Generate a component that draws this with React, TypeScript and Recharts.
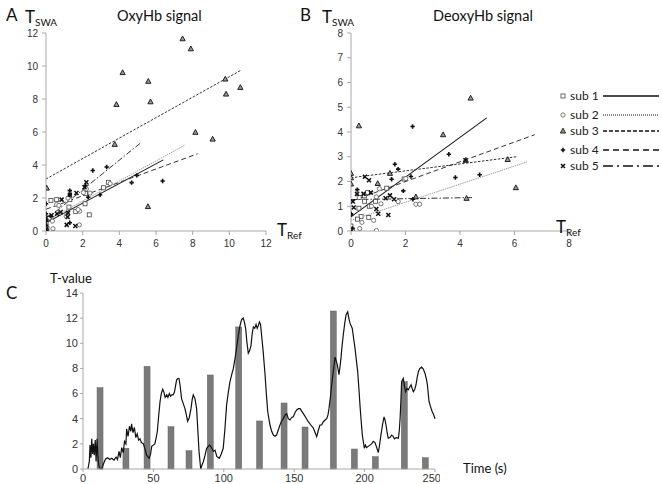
import React from "react";
import { ComposedChart, Scatter, Line, Bar, XAxis, YAxis } from "recharts";

type Pt = [number, number];

// panel A / B axis ticks
const oxyTicks = [0, 2, 4, 6, 8, 10, 12];
const deoxyTicksX = [0, 2, 4, 6, 8];
const deoxyTicksY = [0, 1, 2, 3, 4, 5, 6, 7, 8];
const timeTicks = [0, 50, 100, 150, 200, 250];
const tValueTicks = [0, 2, 4, 6, 8, 10, 12, 14];

const subjects = ["sub 1", "sub 2", "sub 3", "sub 4", "sub 5"];

// OxyHb: T_Ref vs T_SWA, one list per subject
const oxySub1: Pt[] = [[0.27, 1.85], [0.58, 1.9], [1.3, 1.9], [2.13, 1.65], [2.36, 0.98], [1.62, 1.18], [3.13, 2.62], [3.4, 2.95], [2.15, 2.28], [0, 0.5], [0, 0.3], [0.05, 0.15], [0.15, 0.75], [1.25, 1.45]];
const oxySub2: Pt[] = [[0.58, 1.6], [0.7, 1.55], [1.1, 0.9], [1.84, 1.2], [1.82, 0.37], [0.38, 0.14], [2.04, 2.32], [2.2, 2.55], [3.5, 2.87], [1.2, 2.0], [0.2, 0.8], [1.75, 1.3], [2.4, 2.3], [0.35, 0.6]];
const oxySub3: Pt[] = [[7.45, 11.65], [7.9, 11.04], [4.18, 9.6], [5.58, 9.07], [9.78, 9.21], [10.6, 8.7], [9.82, 8.3], [3.84, 7.67], [5.7, 7.83], [8.15, 5.98], [9.09, 5.57], [3.75, 5.25], [5.56, 1.48], [0.04, 2.6], [0, 0.05], [0, 0.2]];
const oxySub4: Pt[] = [[2.55, 3.67], [3.31, 3.88], [4.95, 3.37], [4.67, 2.93], [6.36, 3.03], [2.95, 2.2], [1.3, 2.45], [1.3, 2.2], [0, 1.65], [0, 1.05], [2.15, 2.75], [1.3, 0.5], [2.3, 2.05], [0.25, 0.9], [0, 0.6], [0, 0.35]];
const oxySub5: Pt[] = [[2.2, 2.95], [2.1, 2.65], [1.66, 2.3], [1.3, 2.2], [0.85, 1.9], [1.13, 0.37], [1.6, 0.3], [1.18, 0.85], [0.3, 0.95], [0.8, 1.15], [1.2, 1.1], [0, 0.8], [0.6, 1.05], [0, 0.1]];

// regression lines (start, end)
const oxyFits: Pt[][] = [
  [[0, 0.5], [6.4, 4.31]],
  [[0, 0.6], [7.55, 5.19]],
  [[0, 3.15], [10.6, 9.72]],
  [[0, 1.32], [8.27, 4.68]],
  [[0, 0.7], [5.22, 5.39]],
];

// DeoxyHb
const deoxySub1: Pt[] = [[0.49, 1.42], [0.61, 1.55], [1.31, 1.73], [0.29, 0.92], [0.37, 0.59], [0.24, 0.48], [0, 0.2], [0.5, 1.2], [0.67, 1.0], [0.9, 1.2], [0.65, 0.55], [1.95, 2.1], [0.3, 1.35], [0.05, 0.05]];
const deoxySub2: Pt[] = [[1.04, 1.71], [2.01, 2.12], [1.73, 1.19], [2.38, 1.08], [2.52, 1.08], [0.93, 1.38], [0.83, 0.43], [0.32, 0.1], [0.93, 0.02], [1.1, 1.1], [0.75, 1.0], [0.4, 0.35]];
const deoxySub3: Pt[] = [[0.29, 4.25], [3.38, 3.89], [4.39, 5.37], [1.43, 2.33], [0, 2.33], [0, 2.15], [0, 1.9], [0.98, 1.92], [2.38, 1.38], [4.24, 1.32], [4.21, 2.86], [5.75, 2.89], [6.05, 1.75]];
const deoxySub4: Pt[] = [[2.26, 4.22], [3.59, 3.1], [1.61, 2.7], [1.73, 2.5], [1.49, 2.09], [2.2, 2.2], [3.83, 2.16], [4.72, 2.27], [0.23, 1.67], [1.92, 1.62], [2.27, 1.28], [0, 0.7], [0, 0.65], [0.05, 0.1]];
const deoxySub5: Pt[] = [[0.51, 2.19], [0.66, 2.05], [0.22, 1.5], [0.46, 1.5], [0.73, 1.55], [1.43, 1.44], [1.27, 1.32], [1.58, 1.28], [0.07, 1.19], [0.93, 0.89], [1.37, 0.65], [1.0, 0.7], [0.1, 0.95], [4.2, 2.86], [0, 0]];

const deoxyFits: Pt[][] = [
  [[0, 0.57], [4.98, 4.57]],
  [[0, 0.43], [6.48, 2.8]],
  [[0, 2.15], [6.07, 3.0]],
  [[0, 1.2], [6.74, 3.89]],
  [[0, 1.27], [4.48, 1.35]],
];

// panel C: block onsets (s) and T-values
const blockTimes = [12.1, 30.5, 45.5, 62.5, 75.3, 90.4, 110.6, 125.4, 142.8, 157.7, 177.8, 192.7, 207.6, 228.2, 243.1];
const blockTValues = [6.47, 1.65, 8.17, 3.37, 1.46, 7.48, 11.3, 3.82, 5.25, 3.34, 12.57, 1.59, 0.98, 6.95, 0.9];

// sliding-window T-value trace [time, T]
const swaTrace: Pt[] = [
  [3.5, 0], [4.5, 0.6], [5, 1.9], [5.6, 0.9], [6.2, 2.4], [6.8, 1.2], [7.4, 2.0], [8, 1.1], [8.7, 2.3], [9.3, 0.6], [10, 2.4], [10.6, 1.0], [11.2, 0.3], [12, 0.05], [13.3, 0],
  [14.5, 0.4], [16, 0.8], [17.5, 0.9], [19, 0.75], [20.5, 0.85], [22, 0.7], [23.5, 0.95], [24.5, 0.75], [25.6, 1.4], [26.5, 0.9], [27.5, 1.7], [28.6, 1.3], [29.5, 2.2], [30.5, 2.0],
  [31, 3.2], [32, 2.6], [33, 3.4], [34, 3.0], [34.5, 3.6], [35.5, 2.9], [36.5, 3.3], [37.5, 2.5], [38.5, 2.8], [39.5, 2.3], [40.5, 2.4], [41.5, 2.1], [42.9, 2.0], [44, 1.6], [45.2, 1.1],
  [47, 0.85], [48, 1.2], [48.8, 1.8], [50, 1.9], [51, 2.0], [52, 2.5], [52.8, 3.0], [53.8, 4.3], [54.7, 5.35], [55.6, 6.0], [56.6, 6.35], [57.5, 6.1], [58.3, 5.7], [59.5, 5.9],
  [60.3, 5.7], [61.3, 6.0], [62.2, 5.8], [63, 5.9], [64, 5.9], [64.9, 6.1], [65.7, 6.6], [66.5, 7.1], [67.3, 7.2], [68.2, 7.2], [69, 6.6], [70, 5.6], [71.2, 5.2], [72.4, 4.8],
  [73.4, 4.3], [74.3, 3.8], [75.5, 4.1], [76.7, 4.8], [77.5, 5.5], [78.3, 5.9], [79.5, 5.6], [80.7, 4.8], [81.5, 3.2], [82.4, 1.4], [83.6, 0], [84.5, 0.3], [85.5, 0.6],
  [86.7, 1.1], [87.8, 1.65], [89, 1.8], [90, 1.9], [91.3, 1.7], [92.6, 1.4], [93.8, 1.5], [95, 1.0], [96.8, 0.85], [98.2, 1.2], [99.6, 1.65], [100.8, 3.2], [102, 5.1],
  [103.2, 6.1], [104.4, 6.95], [105.6, 7.5], [106.8, 8.0], [108, 8.8], [109, 9.6], [110.3, 10.6], [111.5, 11.4], [112.7, 11.9], [113.8, 12.0], [114.6, 11.7], [115.5, 11.2],
  [116.4, 10.1], [117.4, 9.2], [118.3, 9.4], [119.3, 9.8], [120.2, 10.8], [121, 11.3], [122, 11.2], [122.9, 11.5], [123.7, 11.2], [124.5, 11.4], [125.3, 11.7], [126.1, 11.5],
  [126.8, 10.7], [128, 9.3], [129.3, 7.5], [130.2, 6.0], [131.2, 4.55], [132, 4.0], [132.8, 3.5], [134, 3.0], [135.2, 2.7], [136.4, 2.6], [137.5, 2.7], [138.7, 3.1],
  [139.9, 3.5], [141, 3.8], [142.3, 4.0], [143.5, 4.3], [144.7, 4.4], [145.8, 4.0], [147, 3.9], [148.2, 4.1], [149.4, 4.15], [150.6, 4.5], [151.8, 4.7], [153, 4.8],
  [154.2, 4.8], [155.3, 4.6], [156.5, 4.4], [158.2, 4.1], [160, 3.76], [161.8, 3.5], [163.6, 3.25], [164.8, 2.9], [166, 2.57], [167.2, 3.1], [168.3, 3.5], [169.5, 3.5],
  [170.7, 3.76], [172, 3.9], [173.1, 4.0], [174, 4.3], [174.7, 4.8], [175.7, 5.7], [176.6, 6.7], [177.8, 7.8], [179, 8.9], [179.8, 8.6], [180.6, 8.3], [181.8, 7.5],
  [182.5, 8.1], [183.2, 8.8], [184, 9.8], [184.9, 10.7], [185.9, 11.6], [186.8, 12.25], [188, 12.5], [188.8, 12.0], [189.6, 11.6], [190.4, 11.4], [191.2, 11.2],
  [192.2, 10.4], [193.2, 9.6], [194.2, 8.6], [195.1, 7.75], [196, 6.3], [196.7, 5.1], [197.5, 3.9], [198.4, 2.7], [199.8, 1.65], [200.6, 1.9], [201.4, 1.7], [202.6, 1.8],
  [203.8, 1.9], [205, 2.0], [206.2, 2.2], [207.4, 2.1], [208.6, 1.7], [209.7, 1.3], [210.6, 1.9], [211.6, 2.7], [212.7, 3.5], [213.8, 4.15], [214.5, 3.9], [215.2, 3.5],
  [216, 2.9], [216.8, 2.45], [218, 2.5], [219.2, 2.7], [220.2, 2.6], [221.2, 2.4], [222.6, 2.5], [224, 2.45], [224.6, 3.0], [225.2, 4.0], [225.8, 5.5], [226.3, 6.95],
  [227.5, 7.2], [228.3, 6.6], [229.2, 6.15], [230.1, 6.4], [231.1, 6.3], [232, 6.5], [233, 6.7], [233.8, 6.4], [234.6, 6.15], [235.5, 6.3], [236.5, 6.7], [237.4, 7.3],
  [238.2, 7.75], [239.3, 8.0], [240.5, 8.1], [241.7, 7.95], [242.9, 7.6], [243.8, 7.2], [244.6, 6.7], [245.2, 6.0], [245.8, 5.35], [246.7, 5.0], [247.6, 4.7],
  [248.2, 4.5], [248.8, 4.4], [249.4, 4.2], [250, 4.0],
];

const toXY = (pts: Pt[]) => pts.map(([x, y]) => ({ x, y }));

const tickFont = { fontSize: 10, fill: "#333", fontFamily: "Liberation Sans, Arial, sans-serif" };
const axisGrey = { stroke: "#a8a8a8" };
const labelFont = "Lato, 'Open Sans', sans-serif";

// line styles for fits, matched by subject
const fitStyles = [
  { stroke: "#1a1a1a", dash: undefined as string | undefined, width: 1.1 },
  { stroke: "#a0a0a0", dash: "1.5 0.8", width: 1 },
  { stroke: "#333", dash: "2.5 1.5", width: 1 },
  { stroke: "#333", dash: "5 3", width: 1 },
  { stroke: "#333", dash: "6 2 1.5 2", width: 1 },
];
const legendDash = [undefined, "1 1", "4 2", "6 4", "10 4 2 4"];

function Marker({ cx, cy, kind }: { cx?: number; cy?: number; kind: number }) {
  if (cx == null || cy == null) return null;
  if (kind === 0)
    return <rect x={cx - 2} y={cy - 2} width={4} height={4} fill="#fff" stroke="#444" strokeWidth={0.8} />;
  if (kind === 1) return <circle cx={cx} cy={cy} r={2.1} fill="#fff" stroke="#555" strokeWidth={0.8} />;
  if (kind === 2)
    return (
      <polygon
        points={`${cx},${cy - 2.8} ${cx + 2.6},${cy + 2} ${cx - 2.6},${cy + 2}`}
        fill="#999"
        stroke="#222"
        strokeWidth={1}
      />
    );
  if (kind === 3)
    return (
      <path d={`M${cx - 2.2},${cy}H${cx + 2.2}M${cx},${cy - 2.2}V${cy + 2.2}`} stroke="#111" strokeWidth={1.6} />
    );
  return (
    <path
      d={`M${cx - 2},${cy - 2}L${cx + 2},${cy + 2}M${cx + 2},${cy - 2}L${cx - 2},${cy + 2}`}
      stroke="#111"
      strokeWidth={1.5}
    />
  );
}

function ScatterPanel({
  subs,
  fits,
  width,
  xMax,
  yMax,
  xTicks,
  yTicks,
}: {
  subs: Pt[][];
  fits: Pt[][];
  width: number;
  xMax: number;
  yMax: number;
  xTicks: number[];
  yTicks: number[];
}) {
  return (
    <ComposedChart width={width} height={255} margin={{ top: 33, right: 10, bottom: 0, left: 0 }}>
      <XAxis
        dataKey="x"
        type="number"
        domain={[0, xMax]}
        ticks={xTicks}
        height={24}
        tick={tickFont}
        axisLine={axisGrey}
        tickLine={axisGrey}
        tickSize={4}
        tickMargin={5}
        allowDataOverflow
      />
      <YAxis
        dataKey="y"
        type="number"
        domain={[0, yMax]}
        ticks={yTicks}
        width={46}
        tick={tickFont}
        axisLine={axisGrey}
        tickLine={axisGrey}
        tickSize={4}
        tickMargin={4}
        allowDataOverflow
      />
      {fits.map((f, i) => (
        <Line
          key={"fit" + i}
          data={toXY(f)}
          dataKey="y"
          type="linear"
          stroke={fitStyles[i].stroke}
          strokeDasharray={fitStyles[i].dash}
          strokeWidth={fitStyles[i].width}
          dot={false}
          activeDot={false}
          isAnimationActive={false}
        />
      ))}
      {subs.map((s, i) => (
        <Scatter
          key={"sub" + i}
          name={subjects[i]}
          data={toXY(s)}
          shape={(p: any) => <Marker cx={p.cx} cy={p.cy} kind={i} />}
          isAnimationActive={false}
        />
      ))}
    </ComposedChart>
  );
}

const abs = (left: number, top: number, extra: React.CSSProperties = {}): React.CSSProperties => ({
  position: "absolute",
  left,
  top,
  whiteSpace: "nowrap",
  fontFamily: labelFont,
  color: "#111",
  lineHeight: 1,
  ...extra,
});

function TSub({ left, top, sub }: { left: number; top: number; sub: string }) {
  return (
    <div style={abs(left, top, { fontSize: 17 })}>
      T<span style={{ fontSize: 10, position: "relative", top: 3 }}>{sub}</span>
    </div>
  );
}

// wide grey block bars centred on their onset
const BlockBar = (p: any) =>
  p.height > 0 ? <rect x={p.x + p.width / 2 - 3} y={p.y} width={6} height={p.height} fill="#7a7a7a" stroke="#666" strokeWidth={0.5} /> : <g />;

export default function App() {
  const barRows = blockTimes.map((t, i) => ({ t, v: blockTValues[i] }));
  const traceRows = swaTrace.map(([t, v]) => ({ t, v }));

  return (
    <div style={{ position: "absolute", left: 0, top: 0, width: 662, height: 484, background: "#fff", overflow: "hidden" }}>
      {/* panel A */}
      <div style={{ position: "absolute", left: 0, top: 0 }}>
        <ScatterPanel
          subs={[oxySub1, oxySub2, oxySub3, oxySub4, oxySub5]}
          fits={oxyFits}
          width={276}
          xMax={12}
          yMax={12}
          xTicks={oxyTicks}
          yTicks={oxyTicks}
        />
      </div>
      {/* panel B */}
      <div style={{ position: "absolute", left: 305, top: 0 }}>
        <ScatterPanel
          subs={[deoxySub1, deoxySub2, deoxySub3, deoxySub4, deoxySub5]}
          fits={deoxyFits}
          width={274}
          xMax={8}
          yMax={8}
          xTicks={deoxyTicksX}
          yTicks={deoxyTicksY}
        />
      </div>
      {/* panel C */}
      <div style={{ position: "absolute", left: 40, top: 283 }}>
        <ComposedChart width={400} height={206} data={barRows} margin={{ top: 10, right: 5, bottom: 0, left: 0 }}>
          <XAxis
            dataKey="t"
            type="number"
            domain={[0, 250]}
            ticks={timeTicks}
            height={20}
            tick={{ ...tickFont, fontSize: 11 }}
            axisLine={axisGrey}
            tickLine={axisGrey}
            tickSize={3}
          />
          <YAxis
            type="number"
            domain={[0, 14]}
            ticks={tValueTicks}
            width={43}
            tick={{ ...tickFont, fontSize: 11 }}
            axisLine={axisGrey}
            tickLine={axisGrey}
            tickSize={3}
            tickMargin={2}
          />
          <Bar dataKey="v" barSize={6} fill="#7a7a7a" shape={BlockBar} isAnimationActive={false} />
          <Line
            data={traceRows}
            dataKey="v"
            type="linear"
            stroke="#111"
            strokeWidth={1.2}
            dot={false}
            activeDot={false}
            isAnimationActive={false}
          />
        </ComposedChart>
      </div>

      {/* labels */}
      <div style={abs(6, 6, { fontSize: 17 })}>A</div>
      <TSub left={25} top={8} sub="SWA" />
      <div style={abs(117, 9, { fontSize: 14.5 })}>OxyHb signal</div>
      <TSub left={277} top={221} sub="Ref" />

      <div style={abs(300, 6, { fontSize: 17 })}>B</div>
      <TSub left={322} top={8} sub="SWA" />
      <div style={abs(433, 9, { fontSize: 14.5 })}>DeoxyHb signal</div>
      <TSub left={556} top={218} sub="Ref" />

      <div style={abs(6, 284, { fontSize: 17 })}>C</div>
      <div style={abs(50, 272, { fontSize: 13 })}>T-value</div>
      <div style={abs(463, 462, { fontSize: 13 })}>Time (s)</div>

      {/* legend */}
      <svg style={{ position: "absolute", left: 555, top: 86 }} width={107} height={90}>
        {subjects.map((s, i) => {
          const y = 10 + [0, 19, 35, 54, 70][i];
          return (
            <g key={s}>
              <Marker cx={8} cy={y} kind={i} />
              <text x={15} y={y + 4} fontSize={12} fontFamily={labelFont} fill="#222">
                {s}
              </text>
              <line
                x1={48}
                x2={104}
                y1={y}
                y2={y}
                stroke="#111"
                strokeWidth={i === 1 ? 1 : 1.5}
                strokeDasharray={legendDash[i]}
              />
            </g>
          );
        })}
      </svg>
    </div>
  );
}
